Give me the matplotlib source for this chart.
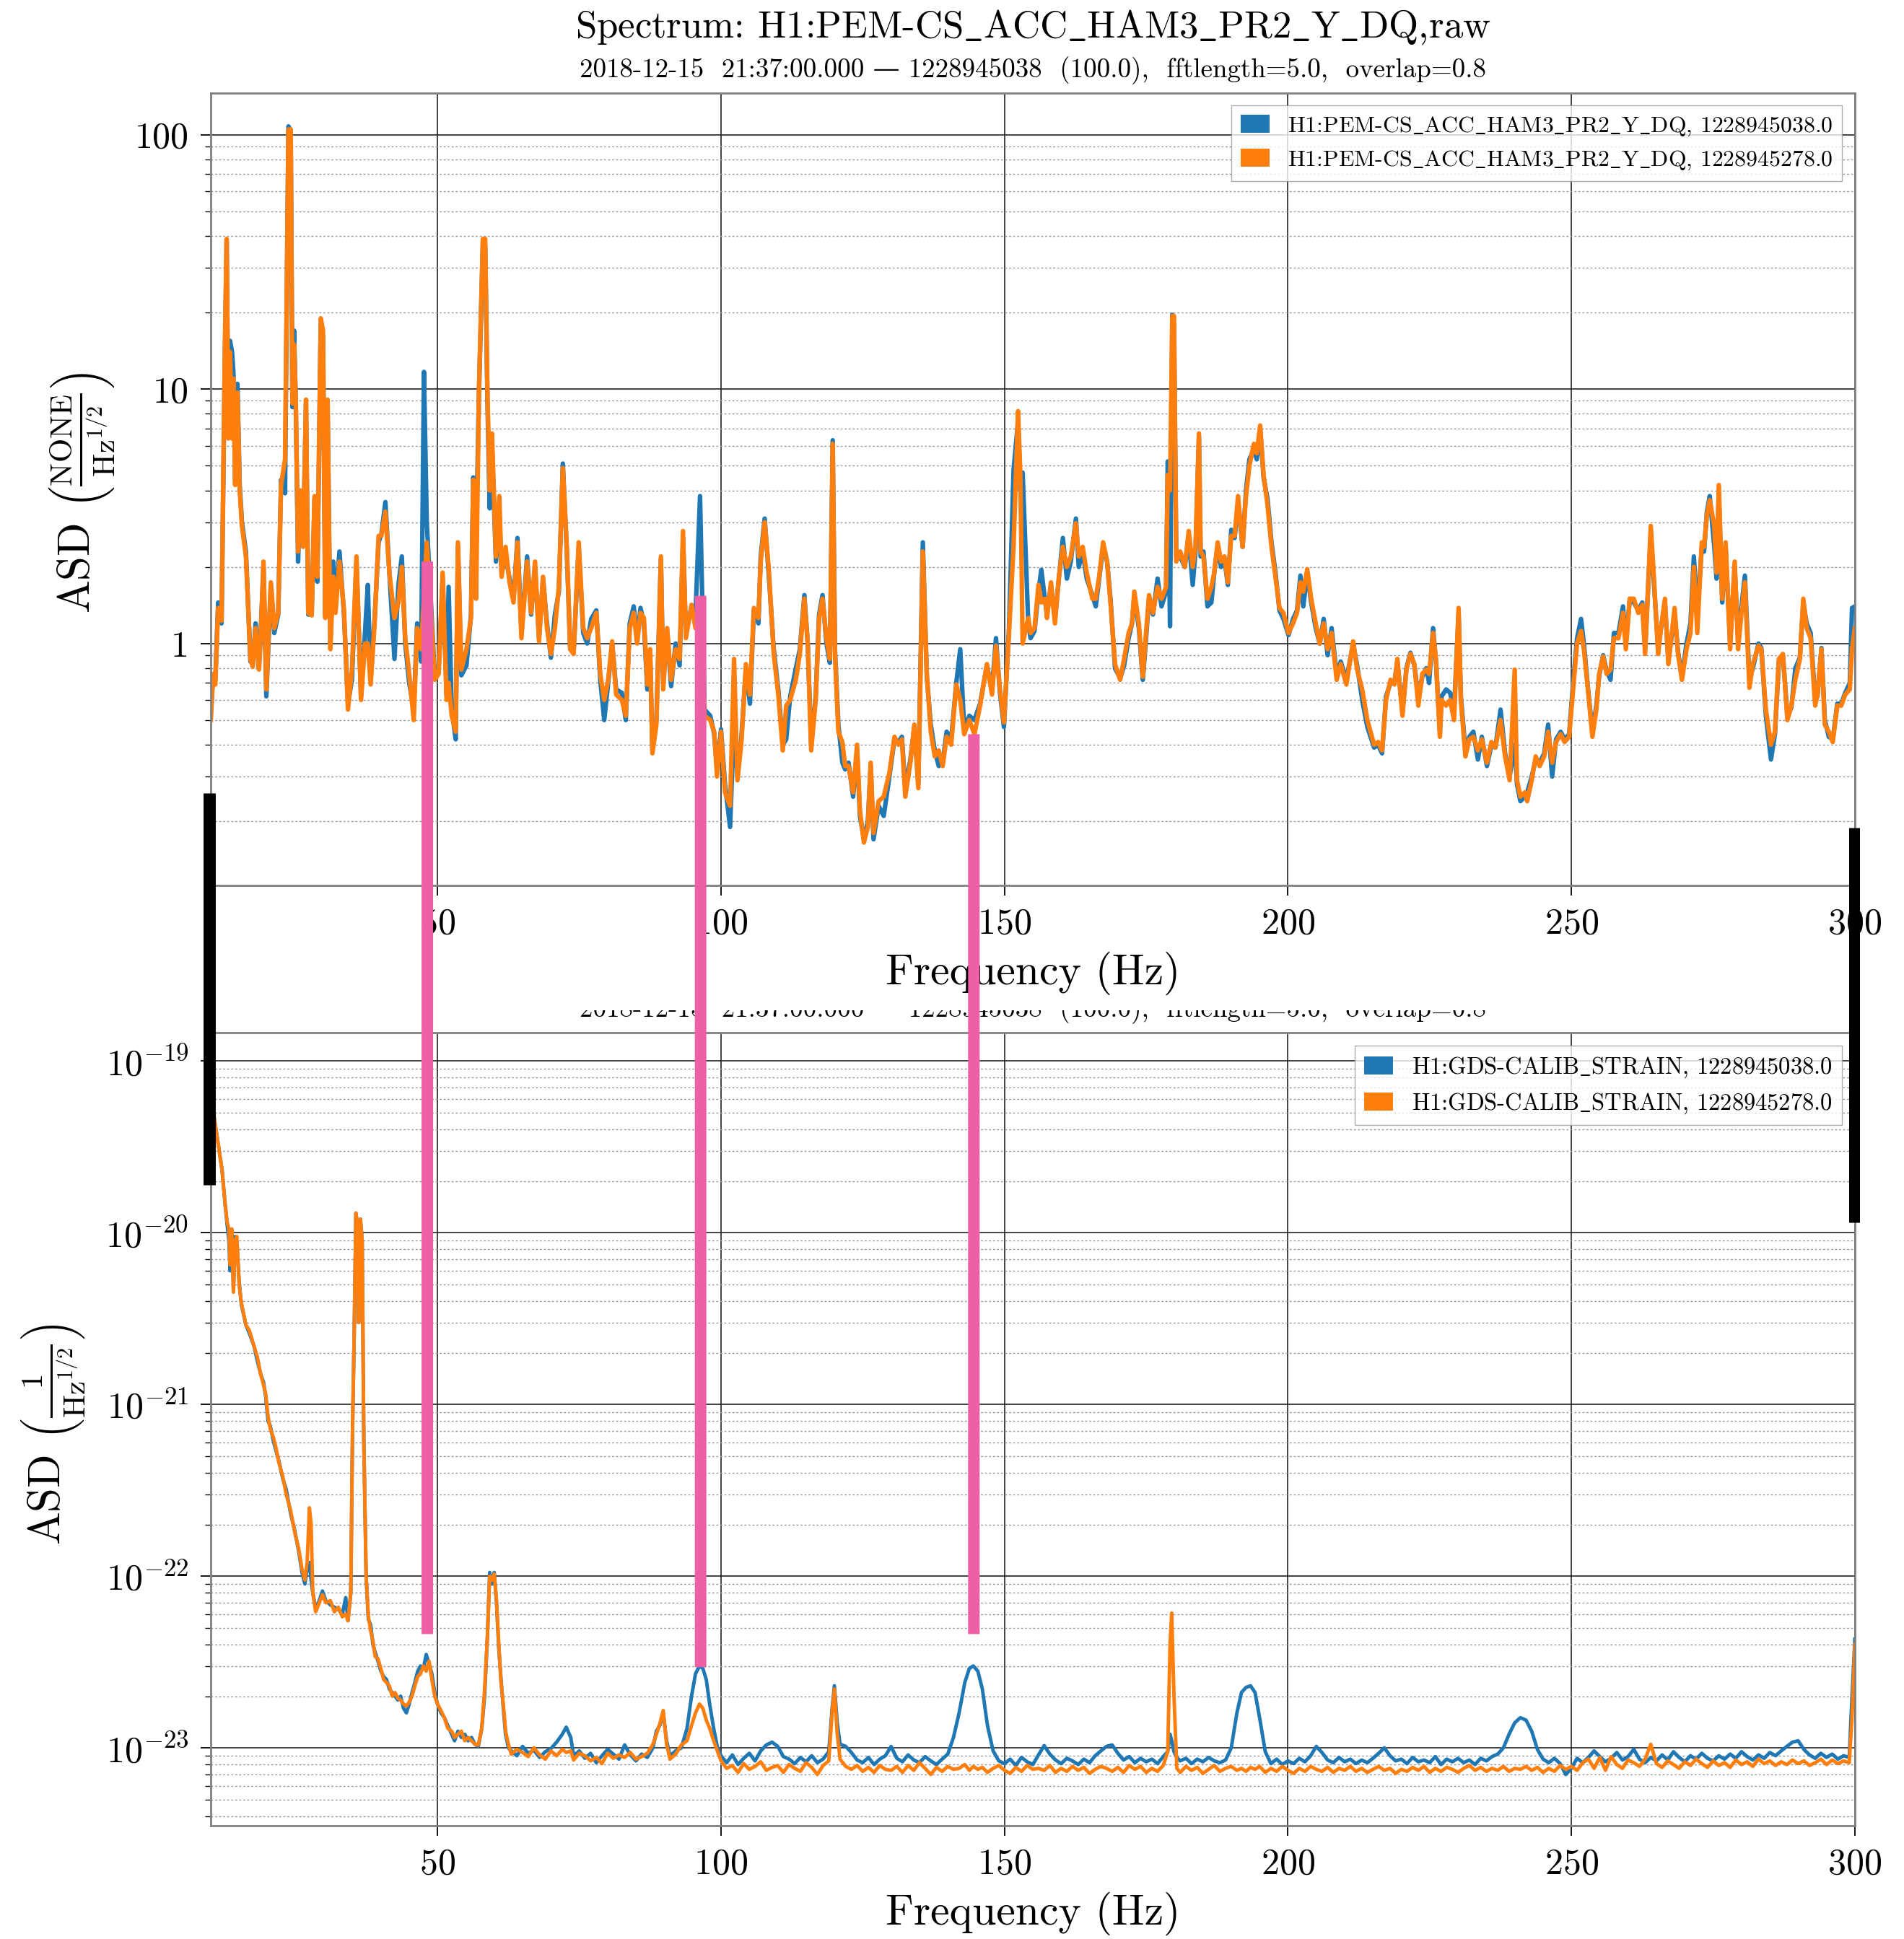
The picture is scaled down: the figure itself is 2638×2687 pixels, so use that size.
"""Two stacked ASD spectra (PEM accelerometer and calibrated strain) with harmonic markers."""

import matplotlib
matplotlib.use("Agg")
import matplotlib.pyplot as plt
import numpy as np
from matplotlib.lines import Line2D
from matplotlib.patches import ConnectionPatch, Patch
from matplotlib.ticker import FuncFormatter, LogLocator, NullFormatter, MultipleLocator
from matplotlib.transforms import Bbox, TransformedBbox

plt.rcParams["font.family"] = ["cmr10", "DejaVu Serif"]
plt.rcParams["mathtext.fontset"] = "cm"
plt.rcParams["axes.formatter.use_mathtext"] = True

BLUE = "#1f77b4"
ORANGE = "#ff7f0e"
PINK = "#ee5fa5"

PEM_CHANNEL = "H1:PEM-CS_ACC_HAM3_PR2_Y_DQ"
STRAIN_CHANNEL = "H1:GDS-CALIB_STRAIN"
GPS_TIMES = ["1228945038.0", "1228945278.0"]
SUBTITLE = "2018-12-15  21:37:00.000 \u2014 1228945038  (100.0),  fftlength=5.0,  overlap=0.8"

# accelerometer ASD (NONE / Hz^1/2)
pem_freq = [
    10.0, 10.4, 10.8, 11.3, 11.9, 12.5, 12.8, 13.1, 13.4, 13.75, 14.0, 14.3, 14.7, 15.1, 15.5, 16.2,
    17.0, 17.4, 17.9, 18.5, 18.8, 19.3, 19.8, 20.6, 21.2, 21.9, 22.4, 23.1, 23.5, 23.7, 24.1, 24.4,
    24.7, 25.0, 25.4, 25.8, 26.3, 26.8, 27.2, 27.8, 28.3, 28.8, 29.4, 29.8, 30.2, 30.6, 31.1, 31.6,
    32.0, 32.7, 33.5, 34.2, 34.9, 35.7, 36.5, 37.2, 37.7, 38.2, 38.9, 39.6, 40.1, 40.8, 41.5, 42.4,
    43.1, 43.7, 44.3, 45.0, 45.8, 46.4, 47.1, 47.6, 48.1, 48.8, 49.5, 50.2, 50.9, 51.6, 51.95, 52.5,
    53.2, 53.6, 54.2, 55.1, 55.9, 56.3, 56.8, 57.3, 58.0, 58.4, 58.8, 59.2, 59.6, 60.3, 60.9, 61.3,
    62.0, 62.7, 63.4, 64.1, 64.8, 65.8, 66.5, 67.2, 67.9, 68.6, 69.3, 70.0, 70.7, 71.4, 72.1, 72.8,
    73.4, 74.0, 74.9, 75.7, 76.4, 77.1, 78.0, 78.7, 79.4, 80.1, 80.8, 81.5, 82.5, 83.2, 83.9, 84.6,
    85.2, 85.8, 86.4, 87.0, 87.5, 87.9, 88.6, 89.4, 89.8, 90.5, 91.2, 92.0, 92.7, 93.3, 93.8, 94.8,
    95.5, 96.3, 97.1, 98.1, 98.8, 99.3, 100.0, 100.7, 101.6, 102.3, 102.9, 103.6, 104.4, 105.1, 105.8, 106.6,
    107.0, 107.7, 108.4, 109.3, 110.1, 110.9, 111.5, 112.2, 113.2, 113.9, 114.7, 115.3, 115.9, 116.7, 117.3, 117.9,
    118.6, 119.2, 119.7, 120.1, 120.7, 121.4, 121.9, 122.5, 123.3, 124.0, 124.5, 125.2, 125.9, 126.4, 126.9, 127.8,
    128.7, 129.7, 130.6, 131.3, 131.9, 132.5, 133.4, 134.1, 134.8, 135.6, 136.3, 137.0, 137.7, 138.4, 139.1, 139.8,
    140.6, 141.5, 142.2, 142.9, 143.8, 144.7, 145.7, 146.9, 147.8, 148.5, 149.2, 149.9, 150.8, 151.6, 152.4, 152.8,
    153.2, 154.2, 154.6, 155.3, 156.0, 156.5, 157.2, 157.5, 158.2, 158.9, 159.6, 160.3, 161.0, 161.7, 162.6, 163.1,
    163.8, 164.5, 165.5, 166.1, 166.7, 167.4, 168.1, 168.7, 169.5, 170.4, 171.1, 171.9, 172.5, 172.9, 173.7, 174.4,
    174.9, 175.5, 176.2, 177.0, 177.7, 178.5, 178.8, 179.2, 179.6, 179.9, 180.3, 181.0, 181.8, 182.5, 183.2, 183.7,
    184.3, 184.6, 185.1, 185.8, 186.5, 187.0, 187.6, 188.2, 188.8, 189.4, 190.0, 190.6, 191.2, 192.0, 192.6, 193.2,
    194.0, 194.5, 195.1, 195.7, 196.4, 197.1, 197.8, 198.5, 199.2, 200.1, 200.9, 201.6, 202.2, 202.7, 203.4, 204.1,
    204.9, 205.6, 206.3, 207.0, 207.7, 208.6, 209.3, 210.3, 211.5, 212.2, 213.1, 214.0, 215.2, 215.9, 216.6, 217.3,
    218.1, 218.8, 219.3, 220.2, 220.9, 221.6, 222.3, 223.0, 223.7, 224.4, 224.9, 225.6, 226.1, 226.8, 227.1, 227.9,
    228.6, 229.3, 230.1, 230.5, 231.3, 232.0, 232.7, 233.5, 234.2, 235.1, 235.9, 236.6, 237.5, 238.3, 239.1, 240.0,
    240.4, 241.0, 241.8, 242.2, 243.0, 243.7, 244.4, 245.2, 245.9, 246.6, 247.3, 248.1, 248.8, 249.6, 250.3, 251.0,
    251.7, 252.2, 253.0, 253.7, 254.4, 254.9, 255.6, 256.2, 256.9, 257.5, 258.3, 259.1, 259.6, 260.3, 261.0, 261.8,
    262.5, 263.0, 264.0, 264.5, 265.3, 265.8, 266.5, 267.1, 268.2, 268.8, 269.5, 270.3, 271.0, 271.6, 272.2, 273.0,
    273.4, 273.9, 274.4, 275.2, 275.6, 276.0, 276.6, 277.2, 278.0, 278.8, 279.4, 280.0, 280.6, 281.4, 282.0, 283.0,
    283.5, 284.3, 285.2, 285.9, 286.6, 287.3, 288.1, 288.8, 289.5, 290.3, 290.9, 291.5, 292.2, 293.0, 293.4, 294.1,
    294.7, 295.4, 296.1, 296.9, 297.6, 298.3, 299.1, 299.5, 300.0,
]
pem_asd_first = [
    0.52, 0.74, 0.72, 1.45, 1.20, 14.0, 38.0, 7.0, 15.5, 14.0, 11.5, 4.4, 10.5, 4.2, 3.0, 2.3,
    0.85, 0.83, 1.2, 0.8, 1.1, 2.0, 0.62, 1.70, 1.1, 1.3, 4.4, 3.9, 38.0, 108.0, 104.0, 8.5,
    17.0, 8.6, 2.1, 3.9, 2.5, 8.8, 1.3, 1.3, 3.7, 1.75, 18.0, 16.0, 1.3, 8.9, 1.0, 2.1,
    1.4, 2.3, 1.3, 0.58, 0.72, 2.1, 0.62, 1.1, 1.7, 0.72, 1.25, 2.5, 2.7, 3.6, 1.9, 0.87,
    1.7, 2.2, 1.0, 0.70, 0.55, 1.2, 0.85, 11.7, 3.0, 1.5, 0.75, 0.8, 1.8, 0.62, 1.67, 0.55,
    0.42, 2.4, 0.75, 0.82, 1.3, 4.5, 2.5, 9.5, 38.0, 37.0, 9.0, 3.4, 6.0, 2.1, 3.3, 1.9,
    2.2, 1.8, 1.5, 2.6, 1.1, 2.2, 1.3, 2.0, 1.05, 1.8, 1.2, 0.88, 1.3, 1.6, 5.1, 2.3,
    0.95, 0.92, 2.4, 1.1, 1.0, 1.25, 1.35, 0.72, 0.50, 0.7, 1.0, 0.66, 0.64, 0.50, 1.2, 1.4,
    1.05, 1.38, 1.2, 0.66, 0.9, 0.38, 0.5, 2.15, 0.7, 1.1, 0.68, 1.0, 0.82, 2.6, 1.1, 1.4,
    1.3, 3.8, 0.55, 0.52, 0.44, 0.32, 0.46, 0.28, 0.19, 0.5, 0.30, 0.43, 0.80, 0.58, 1.35, 1.2,
    2.2, 3.1, 1.9, 0.95, 0.66, 0.40, 0.42, 0.62, 0.8, 0.95, 1.55, 1.0, 0.40, 0.62, 1.3, 1.55,
    1.0, 0.84, 6.3, 0.95, 0.48, 0.34, 0.32, 0.34, 0.25, 0.38, 0.21, 0.17, 0.2, 0.33, 0.17, 0.23,
    0.21, 0.30, 0.42, 0.41, 0.43, 0.27, 0.35, 0.47, 0.28, 2.5, 0.74, 0.48, 0.38, 0.33, 0.34, 0.45,
    0.42, 0.7, 0.95, 0.46, 0.52, 0.5, 0.58, 0.82, 0.66, 1.05, 0.64, 0.47, 1.15, 4.8, 7.5, 4.0,
    4.7, 1.2, 1.05, 1.12, 1.6, 1.95, 1.45, 1.3, 1.7, 1.25, 1.8, 2.6, 1.8, 2.1, 3.1, 2.0,
    2.3, 1.8, 1.55, 1.4, 1.8, 2.4, 2.1, 1.5, 0.8, 0.73, 0.82, 1.05, 1.2, 1.55, 1.15, 0.72,
    1.0, 1.5, 1.3, 1.8, 1.4, 1.6, 5.2, 1.17, 19.6, 18.0, 2.2, 2.2, 2.0, 2.6, 1.7, 2.3,
    6.5, 2.2, 2.3, 1.4, 1.45, 1.9, 2.4, 2.0, 2.15, 1.7, 2.8, 2.6, 3.6, 2.4, 4.0, 5.3,
    5.8, 5.3, 7.0, 4.5, 3.7, 2.5, 1.9, 1.35, 1.25, 1.08, 1.25, 1.35, 1.85, 1.4, 1.9, 1.45,
    1.15, 1.0, 1.25, 0.9, 1.15, 0.75, 0.85, 0.72, 1.0, 0.82, 0.6, 0.47, 0.39, 0.40, 0.37, 0.62,
    0.70, 0.71, 0.85, 0.54, 0.80, 0.92, 0.82, 0.62, 0.74, 0.80, 0.7, 1.15, 0.85, 0.45, 0.62, 0.66,
    0.64, 0.55, 1.3, 0.62, 0.38, 0.43, 0.45, 0.35, 0.43, 0.33, 0.4, 0.39, 0.55, 0.37, 0.30, 0.4,
    0.28, 0.24, 0.25, 0.26, 0.3, 0.35, 0.34, 0.37, 0.48, 0.30, 0.42, 0.45, 0.42, 0.44, 0.70, 1.05,
    1.25, 1.0, 0.64, 0.45, 0.57, 0.75, 0.9, 0.78, 0.72, 1.1, 1.1, 1.4, 1.0, 1.5, 1.45, 1.35,
    1.45, 0.95, 2.7, 1.8, 0.95, 1.15, 1.45, 0.85, 1.3, 0.93, 0.74, 1.0, 1.2, 2.2, 1.3, 2.4,
    2.3, 3.3, 3.8, 2.4, 1.8, 3.9, 1.45, 2.4, 1.0, 2.0, 1.05, 1.4, 1.85, 0.72, 0.8, 1.0,
    0.96, 0.52, 0.35, 0.44, 0.85, 0.9, 0.52, 0.56, 0.8, 0.88, 1.45, 1.2, 1.1, 0.6, 0.62, 0.96,
    0.5, 0.43, 0.42, 0.58, 0.58, 0.64, 0.7, 1.38, 1.4,
]
pem_asd_second = [
    0.50, 0.76, 0.69, 1.38, 1.23, 15.4, 39.0, 6.4, 14.0, 6.4, 11.0, 4.2, 9.7, 4.0, 2.9, 2.2,
    0.87, 0.81, 1.15, 0.79, 1.05, 2.1, 0.66, 1.74, 1.15, 1.32, 4.2, 5.3, 39.0, 105.0, 105.0, 8.8,
    15.0, 8.8, 2.3, 4.0, 2.4, 9.1, 1.32, 1.29, 3.8, 1.83, 19.0, 17.0, 1.26, 9.1, 0.95, 1.83,
    1.32, 2.1, 1.35, 0.55, 0.79, 2.2, 0.60, 1.0, 1.0, 0.69, 1.2, 2.65, 2.65, 3.3, 1.9, 1.26,
    1.45, 2.0, 1.05, 0.76, 0.50, 1.15, 0.95, 1.5, 2.5, 1.38, 0.72, 0.76, 1.9, 0.60, 0.7, 0.52,
    0.45, 2.5, 0.79, 0.95, 1.26, 4.4, 1.5, 9.7, 39.0, 39.0, 9.7, 4.0, 6.7, 2.2, 3.8, 1.83,
    2.4, 1.74, 1.45, 2.5, 1.05, 2.1, 1.32, 2.1, 1.02, 1.83, 1.15, 0.91, 1.15, 1.67, 4.9, 2.4,
    0.95, 0.91, 2.5, 1.15, 1.05, 1.15, 1.32, 0.76, 0.60, 0.72, 1.02, 0.63, 0.60, 0.52, 1.15, 1.32,
    1.0, 1.32, 1.26, 0.69, 0.95, 0.37, 0.48, 2.2, 0.66, 1.15, 0.72, 0.95, 0.87, 2.77, 1.05, 1.42,
    1.15, 1.5, 0.52, 0.50, 0.45, 0.30, 0.45, 0.26, 0.23, 0.87, 0.29, 0.41, 0.83, 0.63, 1.38, 1.26,
    2.1, 3.0, 2.0, 0.91, 0.63, 0.38, 0.57, 0.60, 0.72, 0.91, 1.5, 1.0, 0.38, 0.60, 1.26, 1.5,
    1.05, 0.87, 6.1, 0.91, 0.45, 0.41, 0.33, 0.33, 0.26, 0.40, 0.22, 0.165, 0.19, 0.34, 0.18, 0.24,
    0.25, 0.31, 0.43, 0.40, 0.42, 0.25, 0.34, 0.48, 0.27, 2.3, 0.76, 0.45, 0.36, 0.38, 0.33, 0.43,
    0.40, 0.69, 0.60, 0.44, 0.50, 0.44, 0.57, 0.83, 0.63, 0.98, 0.66, 0.49, 1.1, 2.4, 8.2, 4.6,
    1.0, 1.26, 1.1, 1.15, 1.7, 1.45, 1.5, 1.26, 1.74, 1.2, 1.83, 2.4, 2.0, 2.2, 2.97, 2.2,
    2.4, 1.9, 1.5, 1.5, 1.83, 2.5, 2.1, 1.45, 0.83, 0.72, 0.87, 1.1, 1.2, 1.6, 1.2, 0.74,
    1.05, 1.55, 1.32, 1.67, 1.5, 1.67, 4.6, 4.0, 19.4, 19.4, 2.1, 2.3, 2.0, 2.77, 2.0, 2.4,
    6.7, 2.3, 2.2, 1.5, 1.67, 1.9, 2.5, 2.1, 2.2, 1.74, 2.65, 2.65, 3.8, 2.4, 3.8, 5.0,
    6.1, 5.6, 7.2, 4.6, 3.5, 2.4, 1.83, 1.38, 1.32, 1.1, 1.2, 1.32, 1.74, 1.6, 1.96, 1.5,
    1.2, 1.0, 1.2, 0.95, 1.1, 0.72, 0.83, 0.69, 1.02, 0.79, 0.66, 0.50, 0.40, 0.41, 0.38, 0.60,
    0.72, 0.69, 0.87, 0.52, 0.79, 0.91, 0.83, 0.57, 0.76, 0.79, 0.76, 1.1, 0.87, 0.43, 0.60, 0.57,
    0.60, 0.50, 1.38, 0.60, 0.36, 0.42, 0.43, 0.38, 0.42, 0.34, 0.41, 0.39, 0.50, 0.36, 0.29, 0.79,
    0.29, 0.25, 0.26, 0.24, 0.29, 0.36, 0.33, 0.36, 0.45, 0.34, 0.41, 0.44, 0.41, 0.43, 0.66, 1.0,
    1.12, 0.95, 0.63, 0.43, 0.55, 0.76, 0.89, 0.76, 0.79, 1.05, 1.05, 1.32, 0.95, 1.5, 1.5, 1.32,
    1.42, 0.91, 2.9, 1.9, 0.91, 1.15, 1.5, 0.83, 1.38, 0.91, 0.72, 0.95, 1.1, 2.0, 1.1, 2.5,
    2.4, 3.2, 3.66, 2.9, 1.9, 4.2, 1.5, 2.5, 0.95, 2.1, 0.95, 1.32, 1.74, 0.67, 0.83, 0.98,
    0.95, 0.55, 0.40, 0.45, 0.87, 0.91, 0.50, 0.57, 0.72, 0.87, 1.5, 1.15, 1.05, 0.57, 0.63, 0.95,
    0.48, 0.45, 0.41, 0.57, 0.57, 0.63, 0.66, 0.95, 1.15,
]

# calibrated strain ASD, in units of 1e-24 / Hz^1/2
strain_freq = [
    10.0, 10.6, 11.3, 12.0, 12.5, 12.9, 13.2, 13.4, 13.7, 14.0, 14.3, 14.6, 15.0, 15.4, 16.2, 16.8,
    17.6, 18.2, 18.8, 19.3, 19.7, 20.1, 20.5, 21.0, 21.5, 22.0, 22.7, 23.3, 24.1, 24.8, 25.5, 26.1,
    26.6, 27.0, 27.4, 27.7, 28.0, 28.5, 29.0, 29.7, 30.3, 31.1, 31.8, 32.5, 33.2, 33.8, 34.2, 34.7,
    35.0, 35.3, 35.6, 35.9, 36.1, 36.4, 36.7, 37.0, 37.4, 37.8, 38.2, 38.6, 39.0, 39.5, 40.0, 40.5,
    41.0, 41.5, 42.0, 42.5, 43.0, 43.5, 44.0, 44.5, 45.0, 45.5, 46.0, 46.5, 47.0, 47.5, 48.0, 48.5,
    49.0, 49.5, 50.0, 50.6, 51.2, 51.8, 52.5, 53.0, 53.6, 54.2, 54.8, 55.4, 56.0, 56.6, 57.2, 57.8,
    58.3, 58.8, 59.2, 59.6, 60.0, 60.4, 60.8, 61.2, 61.6, 62.0, 62.5, 63, 64, 65, 66, 67,
    68, 69, 70, 71, 72, 72.7, 73.5, 74, 75, 76, 77, 78, 79, 80, 81, 82,
    83, 84, 85, 86, 87, 88, 88.6, 89.2, 89.8, 90.4, 91, 92, 93, 94, 94.8, 95.5,
    96.2, 96.8, 97.4, 98.0, 98.7, 99.4, 100, 101, 102, 103, 104, 105, 106, 107, 108, 109,
    110, 111, 112, 113, 114, 115, 116, 117, 118, 119, 119.6, 120.0, 120.5, 121, 122, 123,
    124, 125, 126, 127, 128, 129, 130, 131, 132, 133, 134, 135, 136, 137, 138, 139,
    140, 141, 142, 143, 143.8, 144.5, 145.3, 146.1, 147, 148, 149, 150, 151, 152, 153, 154,
    155, 156, 157, 158, 159, 160, 161, 162, 163, 164, 165, 166, 167, 168, 169, 170,
    171, 172, 173, 174, 175, 176, 177, 178, 178.8, 179.2, 179.5, 179.9, 180.4, 181, 182, 183,
    184, 185, 186, 187, 188, 189, 190, 191, 191.8, 192.6, 193.4, 194.2, 195.0, 196.0, 197, 198,
    199, 200, 201, 202, 203, 204, 205, 206, 207, 208, 209, 210, 211, 212, 213, 214,
    215, 216, 217, 218, 219, 220, 221, 222, 223, 224, 225, 226, 227, 228, 229, 230,
    231, 232, 233, 234, 235, 236, 237, 238, 239, 240, 241, 242, 243, 244, 245, 246,
    247, 248, 249, 250, 251, 252, 253, 254, 255, 256, 257, 258, 259, 260, 261, 262,
    263, 264, 265, 266, 267, 268, 269, 270, 271, 272, 273, 274, 275, 276, 277, 278,
    279, 280, 281, 282, 283, 284, 285, 286, 287, 288, 289, 290, 291, 292, 293, 294,
    295, 296, 297, 298, 299, 299.5, 300,
]
strain_asd_first = [
    55000, 47000, 33000, 23000, 15000, 11000, 9000, 6000, 10500, 4600, 9500, 8800, 5200, 3800, 2900, 2600,
    2200, 1800, 1500, 1350, 1100, 800, 750, 620, 540, 470, 370, 320, 230, 185, 140, 105,
    90, 110, 120, 95, 80, 65, 70, 82, 72, 68, 66, 64, 60, 75, 55, 80,
    700, 2600, 13000, 11000, 3000, 12000, 9000, 600, 100, 56, 52, 40, 36, 32, 28, 26,
    25, 22, 21, 20, 19, 20, 17, 16, 18, 21, 24, 28, 30, 29, 35, 31,
    27, 21, 18, 16, 15, 13.5, 12, 11, 12.5, 11.5, 12, 11, 11.5, 10.5, 10.2, 13,
    20, 45, 105, 90, 105, 70, 38, 25, 17, 12, 10, 9.6, 9.0, 10.2, 9.3, 9.7,
    8.8, 9.5, 9.9, 10.8, 12.0, 13.2, 11.5, 9.0, 9.6, 8.7, 9.3, 8.2, 9.0, 9.8, 9.2, 8.6,
    10.4, 9.1, 8.4, 9.2, 8.8, 10.0, 12.5, 13.5, 16.0, 11.0, 9.0, 9.6, 10.0, 13.0, 20.0, 27.0,
    30.0, 29.0, 25.0, 18.0, 13.0, 10.0, 9.0, 8.2, 9.1, 8.0, 8.7, 9.3, 8.4, 9.6, 10.4, 10.8,
    10.2, 8.9, 8.6, 8.1, 8.8, 8.3, 9.0, 8.2, 8.6, 9.5, 17.0, 23.0, 14.0, 10.5, 10.2, 9.4,
    8.5, 8.2, 8.8, 8.0, 8.6, 9.0, 10.2, 8.7, 8.3, 9.1, 8.5, 8.2, 8.9, 8.4, 8.0, 8.6,
    9.2, 11.5, 16.0, 24.0, 29.0, 30.0, 28.0, 22.0, 13.5, 9.6, 8.4, 8.1, 8.6, 7.9, 8.8, 8.3,
    8.0, 9.1, 10.3, 9.2, 8.5, 8.1, 8.7, 8.4, 8.0, 8.6, 8.2, 9.0, 9.6, 10.2, 10.4, 9.3,
    8.5, 8.9, 8.2, 8.7, 8.3, 8.6, 8.1, 8.9, 9.5, 12.0, 11.0, 9.5, 8.8, 8.4, 8.7, 8.1,
    8.6, 8.3, 8.8, 8.4, 8.2, 8.5, 10.0, 16.0, 21.0, 22.5, 23.0, 21.0, 15.0, 9.5, 8.1, 8.6,
    8.0, 8.4, 8.1, 8.7, 8.3, 9.0, 10.2, 9.4, 8.5, 8.2, 8.8, 8.3, 8.6, 8.1, 8.5, 8.2,
    8.7, 9.3, 10.0, 9.0, 8.4, 8.6, 8.1, 8.8, 8.3, 8.5, 8.2, 8.9, 8.0, 8.6, 8.3, 8.7,
    8.2, 8.5, 8.0, 8.7, 8.4, 8.9, 9.2, 10.0, 12.0, 14.0, 15.0, 14.5, 12.5, 9.8, 8.6, 8.2,
    8.7, 8.1, 7.0, 7.6, 8.7, 8.2, 8.8, 9.6, 8.9, 8.3, 8.7, 9.4, 8.5, 8.9, 9.8, 8.6,
    8.2, 8.8, 8.4, 9.1, 8.5, 9.5, 8.8, 8.3, 9.0, 8.6, 9.3, 8.7, 8.4, 9.0, 8.6, 9.2,
    8.7, 9.5, 8.9, 8.5, 9.1, 8.7, 9.4, 9.0, 9.6, 10.2, 10.8, 11.0, 9.8, 9.1, 8.7, 9.3,
    8.8, 9.2, 8.6, 9.0, 8.8, 20.0, 43.0,
]
strain_asd_second = [
    55000, 47000, 33000, 23000, 15000, 11500, 10500, 6500, 10500, 4500, 9000, 9500, 5000, 3900, 2900, 2700,
    2200, 1900, 1500, 1300, 1150, 850, 720, 650, 560, 460, 380, 300, 240, 180, 145, 110,
    95, 120, 250, 200, 80, 62, 68, 78, 70, 72, 62, 66, 58, 60, 55, 80,
    700, 2600, 13000, 11000, 3000, 12000, 9000, 600, 100, 58, 48, 42, 34, 33, 29, 25,
    24, 23, 20, 21, 19.5, 19, 18, 17.5, 18.5, 20, 23, 26, 27, 30, 28, 32,
    25, 20, 18, 16.5, 15, 13, 12.5, 11.5, 12, 12.5, 11, 11.5, 11, 10.5, 10.4, 13,
    22, 45, 100, 95, 103, 72, 40, 24, 18, 12.5, 10.5, 9.2, 9.8, 9.4, 8.9, 10.0,
    9.1, 8.6, 9.6, 9.0, 9.8, 9.4, 9.6, 8.5, 9.3, 9.0, 8.4, 8.8, 8.1, 9.3, 8.7, 9.1,
    8.8, 9.4, 8.6, 8.9, 9.3, 10.5, 12.0, 13.8, 16.5, 10.5, 8.6, 9.2, 10.4, 11.0, 13.5, 16.0,
    18.0, 17.0, 14.5, 13.0, 11.0, 9.5, 8.4, 7.6, 7.9, 7.2, 8.1, 7.5, 7.8, 8.3, 7.4, 7.7,
    7.9, 7.2, 8.0, 7.6, 7.3, 8.2, 7.7, 7.0, 7.9, 8.4, 16.0, 22.0, 12.0, 8.6, 7.8, 7.5,
    7.9, 7.3, 7.7, 7.2, 7.9, 7.5, 7.4, 7.8, 7.2, 7.9, 7.4, 8.2, 7.6, 7.0, 7.7, 7.3,
    7.8, 7.5, 7.6, 8.0, 7.4, 7.8, 7.5, 7.7, 7.2, 7.6, 7.9, 7.4, 7.1, 7.7, 7.3, 7.9,
    7.5, 7.6, 7.4, 7.9, 7.2, 7.6, 7.3, 7.8, 7.4, 7.7, 7.1, 7.5, 7.8, 7.6, 7.3, 7.7,
    7.2, 7.9, 7.5, 7.8, 7.2, 7.6, 7.3, 7.9, 9.5, 40.0, 61.0, 20.0, 7.6, 7.2, 7.8, 7.4,
    7.7, 7.1, 7.5, 7.9, 7.3, 7.6, 7.8, 7.4, 7.6, 7.3, 7.7, 7.5, 7.8, 7.2, 7.6, 7.3,
    7.8, 7.4, 7.1, 7.6, 7.3, 7.8, 7.5, 7.3, 7.7, 7.2, 7.6, 7.4, 7.8, 7.3, 7.6, 7.2,
    7.5, 7.8, 7.4, 7.6, 7.1, 7.5, 7.3, 7.7, 7.4, 7.8, 7.2, 7.6, 7.3, 7.7, 7.5, 7.2,
    7.6, 7.9, 7.4, 7.7, 7.3, 7.6, 7.4, 7.8, 7.3, 7.6, 7.5, 7.8, 7.4, 7.7, 7.2, 7.6,
    7.3, 7.9, 7.5, 7.8, 7.4, 8.2, 8.6, 7.6, 8.8, 7.4, 8.9, 8.0, 7.6, 8.5, 8.2, 7.8,
    8.6, 10.5, 8.1, 7.7, 8.4, 8.0, 7.6, 8.3, 7.9, 8.6, 8.1, 7.7, 8.4, 7.9, 8.2, 7.7,
    8.5, 8.0, 8.3, 7.8, 8.6, 8.1, 8.4, 7.9, 8.3, 8.0, 8.5, 8.1, 8.4, 7.9, 8.2, 8.6,
    8.0, 8.5, 8.1, 8.4, 8.2, 15.0, 40.0,
]

# harmonic markers drawn across both panels: (frequency, ASD in top panel, strain ASD in bottom panel)
marker_freq = [48.2, 96.4, 144.6]
marker_pem_asd = [2.1, 1.54, 0.44]
marker_strain_asd = [4.6e-23, 2.95e-23, 4.6e-23]

strain_scale = 1e-24


def style_axis(ax, ylim):
    ax.set_xscale("linear")
    ax.set_yscale("log")
    ax.set_xlim(10, 300)
    ax.set_ylim(*ylim)
    ax.xaxis.set_major_locator(MultipleLocator(50))
    ax.yaxis.set_major_locator(LogLocator(base=10))
    ax.yaxis.set_minor_locator(LogLocator(base=10, subs=np.arange(2, 10)))
    ax.yaxis.set_minor_formatter(NullFormatter())
    ax.grid(True, which="major", color="#222222", linewidth=1.4, alpha=0.85)
    ax.grid(True, which="minor", axis="y", color="#999999", linewidth=1.0, linestyle=(0, (2, 2)))
    ax.set_axisbelow(True)
    ax.tick_params(axis="both", which="major", direction="out", length=10, width=1.3,
                   labelsize=36, pad=12)
    ax.tick_params(axis="y", which="minor", direction="out", length=6, width=1.0)
    for spine in ax.spines.values():
        spine.set_color("#808080")
        spine.set_linewidth(2.0)


fig = plt.figure(figsize=(26.38, 26.87), dpi=100)
ax_top = fig.add_axes([0.1107, 0.5434, 0.8635, 0.4086])
ax_bot = fig.add_axes([0.1107, 0.0584, 0.8635, 0.4090])

# accelerometer spectrum
ax_top.plot(pem_freq, pem_asd_first, color=BLUE, linewidth=4.5)
ax_top.plot(pem_freq, pem_asd_second, color=ORANGE, linewidth=4.5)
style_axis(ax_top, (0.112, 146))
ax_top.yaxis.set_major_formatter(FuncFormatter(lambda v, pos: f"{v:g}"))

# strain spectrum
strain_first = [v * strain_scale for v in strain_asd_first]
strain_second = [v * strain_scale for v in strain_asd_second]
ax_bot.plot(strain_freq, strain_first, color=BLUE, linewidth=3.5)
ax_bot.plot(strain_freq, strain_second, color=ORANGE, linewidth=3.5)
style_axis(ax_bot, (3.52e-24, 1.46e-19))
ax_bot.yaxis.set_major_formatter(
    FuncFormatter(lambda v, pos: rf"$10^{{{int(round(np.log10(v)))}}}$"))


def tex_label(text):
    return text.replace("_", r"$\_$")


for ax, channel, size in [(ax_top, PEM_CHANNEL, 22.9), (ax_bot, STRAIN_CHANNEL, 23.4)]:
    handles = [Patch(facecolor=c, edgecolor="none") for c in (BLUE, ORANGE)]
    labels = [tex_label(f"{channel}, {gps}") for gps in GPS_TIMES]
    ax.legend(handles, labels, loc="upper right", fontsize=size, handlelength=1.25,
              handleheight=0.8, handletextpad=0.8, borderaxespad=0.55, fancybox=False,
              framealpha=0.8, edgecolor="#999999")
    ax.set_xlabel("Frequency (Hz)", fontsize=43)
    ax.xaxis.set_label_coords(0.5, -0.083)

# titles and axis labels
x_mid = 0.1107 + 0.8635 / 2
fig.text(x_mid, 1 - 38 / 2687, tex_label(f"Spectrum: {PEM_CHANNEL},raw"),
         ha="center", va="center", fontsize=38)
fig.text(x_mid, 1 - 98 / 2687, SUBTITLE, ha="center", va="center", fontsize=26.6)

# the lower panel's subtitle sits partly under the upper panel
lower_sub = fig.text(x_mid, 1 - 1400 / 2687, SUBTITLE, ha="center", va="center",
                     fontsize=26.6, clip_on=True)
lower_sub.set_clip_box(TransformedBbox(Bbox([[0, 0], [1, 1 - 1400 / 2687]]), fig.transFigure))

fig.text(115 / 2638, 1 - 683 / 2687,
         r"ASD $\left(\frac{\mathrm{NONE}}{\mathrm{Hz}^{1/2}}\right)$",
         rotation=90, ha="center", va="center", fontsize=44)
fig.text(74 / 2638, 1 - 1988 / 2687,
         r"ASD $\left(\frac{1}{\mathrm{Hz}^{1/2}}\right)$",
         rotation=90, ha="center", va="center", fontsize=44)

# harmonic markers linking the two panels
for f, y_top, y_bot in zip(marker_freq, marker_pem_asd, marker_strain_asd):
    link = ConnectionPatch(xyA=(f, y_top), coordsA=ax_top.transData,
                           xyB=(f, y_bot), coordsB=ax_bot.transData,
                           color=PINK, linewidth=11.5, capstyle="butt", zorder=10)
    fig.add_artist(link)

# black edge bars
fig.add_artist(Line2D([289.5 / 2638] * 2, [1 - 1099 / 2687, 1 - 1642 / 2687],
                      color="black", linewidth=12.2, solid_capstyle="butt", zorder=10))
fig.add_artist(Line2D([2568.5 / 2638] * 2, [1 - 1147 / 2687, 1 - 1694 / 2687],
                      color="black", linewidth=10.8, solid_capstyle="butt", zorder=10))

fig.savefig("out.png", dpi=100)
